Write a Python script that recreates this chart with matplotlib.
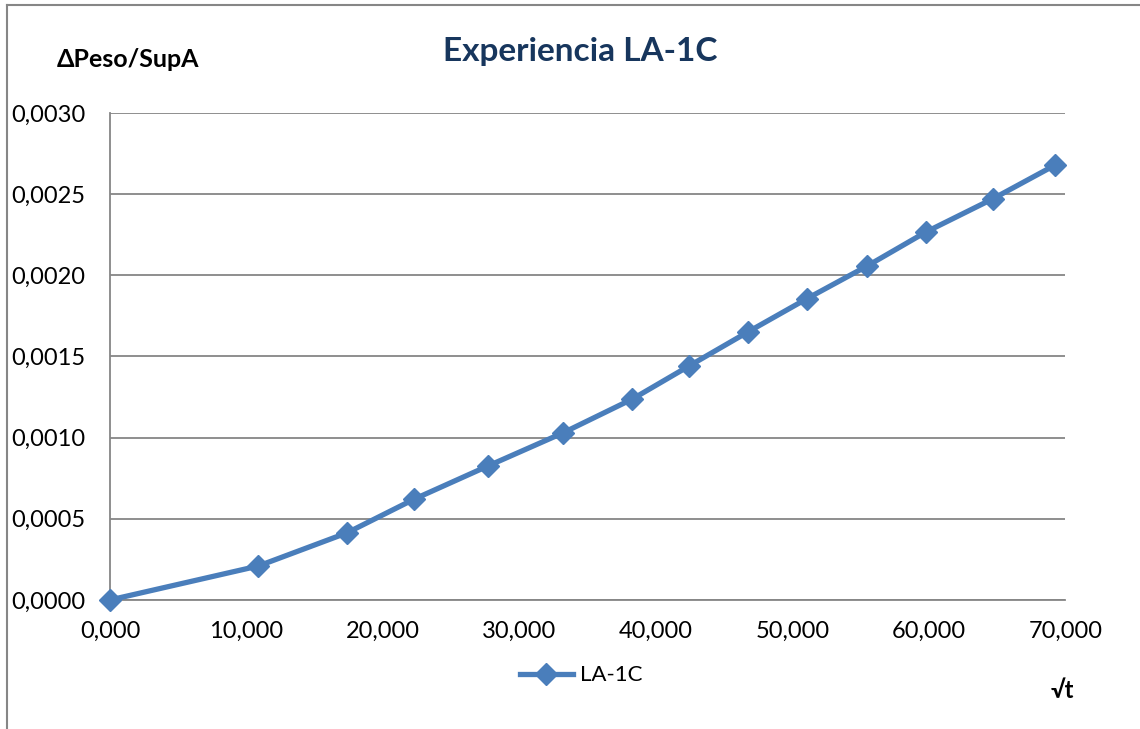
# Experiencia LA-1C: ganancia de peso por superficie frente a raiz de t
import matplotlib.pyplot as plt
from matplotlib.lines import Line2D
from matplotlib.ticker import FuncFormatter

plt.rcParams['font.family'] = ['Lato', 'DejaVu Sans']

# Data
raiz_t = [0.0, 10.86, 17.35, 22.31, 27.71, 33.18, 38.28, 42.44, 46.74, 51.04, 55.49, 59.79, 64.68, 69.27]
peso_sup = [0.0, 0.000209, 0.000413, 0.000622, 0.000826, 0.001029, 0.001238,
            0.001442, 0.001651, 0.001855, 0.002058, 0.002267, 0.002471, 0.002680]
x_ticks = [0, 10, 20, 30, 40, 50, 60, 70]
y_ticks = [0.0, 0.0005, 0.0010, 0.0015, 0.0020, 0.0025, 0.0030]

blue = '#4A7EBB'
grid_grey = '#868686'

fig = plt.figure(figsize=(11.4, 7.29), dpi=100)
ax = fig.add_axes([0.0965, 0.177, 0.838, 0.668])

ax.plot(raiz_t, peso_sup, color=blue, lw=3.8, marker='D', markersize=11,
        markerfacecolor=blue, markeredgecolor=blue, label='LA-1C', zorder=3,
        clip_on=False)

ax.set_xlim(0, 70)
ax.set_ylim(0, 0.0030)
ax.set_xticks(x_ticks)
ax.set_yticks(y_ticks)
ax.xaxis.set_major_formatter(FuncFormatter(lambda v, p: f'{v:.3f}'.replace('.', ',')))
ax.yaxis.set_major_formatter(FuncFormatter(lambda v, p: f'{v:.4f}'.replace('.', ',')))
ax.tick_params(axis='both', length=0, labelsize=17, colors='black')
ax.tick_params(axis='y', pad=18)
ax.tick_params(axis='x', pad=15)

ax.grid(axis='y', color=grid_grey, lw=1.3)
ax.set_axisbelow(True)
for s in ['top', 'right']:
    ax.spines[s].set_visible(False)
for s in ['left', 'bottom']:
    ax.spines[s].set_color(grid_grey)
    ax.spines[s].set_linewidth(1.3)

fig.text(0.509, 0.93, 'Experiencia LA-1C', ha='center', va='center',
         fontsize=24, fontweight='bold', color='#17365D')
fig.text(0.05, 0.918, 'ΔPeso/SupA', ha='left', va='center', fontsize=18, fontweight='bold')
fig.text(0.922, 0.053, '√t', ha='left', va='center', fontsize=17, fontweight='bold')

ax.legend(loc='center', bbox_to_anchor=(0.493, -0.155), frameon=False, fontsize=16,
          handlelength=2.4, handletextpad=0.3)

# partial outer chart border (left and top)
fig.add_artist(Line2D([0.0065, 0.0065], [0, 0.993], color=grid_grey, lw=1.5))
fig.add_artist(Line2D([0.0065, 1.0], [0.993, 0.993], color=grid_grey, lw=1.5))

fig.savefig('out.png', dpi=100)
